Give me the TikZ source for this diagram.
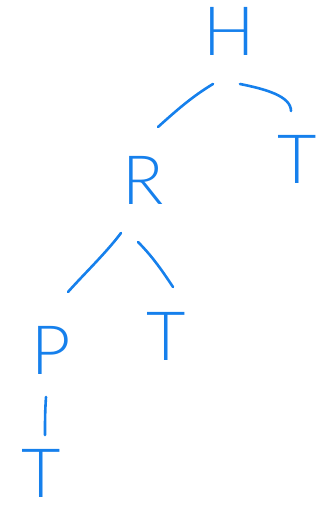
\documentclass[tikz,border=0pt]{standalone}
\usepackage{fontspec}
\setmainfont{Lato Light}
\definecolor{ink}{RGB}{22,128,236}
\begin{document}
\begin{tikzpicture}[x=1pt,y=-1pt,
  letter/.style={text=ink,inner sep=0pt,anchor=base,font=\fontsize{68}{68}\selectfont},
  stroke/.style={draw=ink,line width=2.6pt,line cap=round}]
\useasboundingbox (0,0) rectangle (321,510);
% tree nodes
\node[letter] (H)  at (229,56)  {H};
\node[letter] (R)  at (143,205) {R};
\node[letter] (T1) at (297,184) {T};
\node[letter] (P)  at (51,374)  {P};
\node[letter] (T2) at (166,360) {T};
\node[letter] (T3) at (41,497)  {T};
% branches
\draw[stroke] ([shift={(-16,28)}]H.base) .. controls +(-20,12) and +(20,-18) .. ([shift={(15,-78)}]R.base);
\draw[stroke] ([shift={(11,28)}]H.base) .. controls +(25,5) and +(0,-15) .. ([shift={(-6,-73)}]T1.base);
\draw[stroke] ([shift={(-22,28)}]R.base) .. controls +(-15,20) and +(15,-17) .. ([shift={(-75,-82)}]R.base |- P.base);
\draw[stroke] ([shift={(-5,23)}]P.base) .. controls +(-1,15) and +(0,-15) .. ([shift={(4,-62)}]T3.base);
\draw[stroke] ([shift={(-5,37)}]R.base) .. controls +(15,15) and +(-10,-15) .. ([shift={(7,-73)}]T2.base);
\end{tikzpicture}
\end{document}
